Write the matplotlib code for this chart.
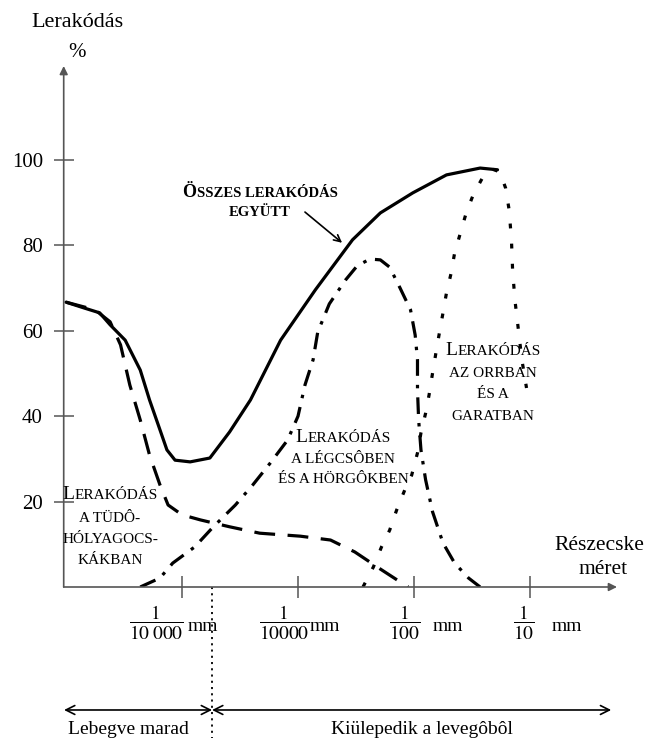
import matplotlib
matplotlib.use("Agg")
import matplotlib.pyplot as plt
from matplotlib.offsetbox import TextArea, HPacker, VPacker, AnnotationBbox

plt.rcParams['font.family'] = ['Liberation Serif', 'DejaVu Serif']
plt.rcParams['mathtext.fontset'] = 'stix'
plt.rcParams['lines.scale_dashes'] = False

# particle size axis: 1 unit = one decade, ticks at 1..4
total_x = [0.0, 0.16, 0.29, 0.38, 0.51, 0.64, 0.72, 0.81, 0.87, 0.94, 1.07, 1.24,
           1.41, 1.59, 1.85, 2.15, 2.47, 2.71, 2.99, 3.28, 3.57, 3.72]
total_y = [66.7, 65.3, 64.2, 61.4, 57.8, 50.8, 43.8, 36.8, 32.1, 29.7, 29.3, 30.2,
           36.3, 43.8, 57.8, 69.6, 81.3, 87.6, 92.3, 96.5, 98.1, 97.7]

alveolar_x = [0.0, 0.25, 0.38, 0.47, 0.55, 0.64, 0.72, 0.81, 0.88, 1.0, 1.16, 1.41,
              1.67, 2.02, 2.28, 2.49, 2.71, 2.88, 2.95]
alveolar_y = [66.7, 64.9, 62.1, 56.7, 47.3, 39.1, 30.9, 23.9, 19.2, 16.9, 15.7, 14.1,
              12.6, 11.9, 11.0, 8.2, 4.2, 1.2, 0.0]

bronchi_x = [0.64, 0.81, 0.92, 1.11, 1.27, 1.46, 1.61, 1.76, 1.91, 2.0, 2.06, 2.13,
             2.17, 2.27, 2.41, 2.51, 2.62, 2.71, 2.79, 2.88, 2.97, 3.01, 3.03, 3.03,
             3.04, 3.06, 3.10, 3.16, 3.25, 3.35, 3.47, 3.57]
bronchi_y = [0.0, 2.1, 5.6, 9.4, 14.1, 19.2, 23.9, 29.0, 34.4, 40.0, 47.3, 53.2,
             59.7, 66.3, 71.9, 75.2, 76.8, 76.6, 74.9, 70.0, 64.9, 59.0, 53.2, 46.1,
             39.1, 32.1, 25.1, 17.6, 10.3, 5.6, 2.1, 0.0]

nose_x = [2.56, 2.65, 2.72, 2.79, 2.85, 2.92, 2.98, 3.03, 3.06, 3.10, 3.13, 3.16,
          3.19, 3.22, 3.25, 3.28, 3.32, 3.35, 3.40, 3.45, 3.51, 3.59, 3.67, 3.74,
          3.79, 3.82, 3.84, 3.85, 3.87, 3.90, 3.93, 3.97]
nose_y = [0.0, 4.7, 9.4, 13.3, 18.0, 22.7, 26.2, 31.4, 36.1, 40.7, 45.0, 50.1,
          55.0, 59.7, 64.2, 68.9, 73.5, 78.2, 82.9, 87.6, 91.8, 95.8, 97.9, 97.2,
          93.4, 88.3, 81.3, 74.2, 67.2, 60.2, 53.2, 46.6]

y_ticks = [20, 40, 60, 80, 100]
x_ticks = [1, 2, 3, 4]
x_denoms = ['10\\;000', '10000', '100', '10']
x_frac_pos = [0.78, 1.88, 2.92, 3.95]
x_mm_pos = [1.05, 2.10, 3.16, 4.19]

fig = plt.figure(figsize=(6.48, 7.38), dpi=100)
ax = fig.add_axes([63.7 / 648, 151 / 738, 553.3 / 648, 521 / 738])
ax.set_xlim(-0.02, 4.75)
ax.set_ylim(0, 122)
for s in ax.spines.values():
    s.set_visible(False)

axis_col = '#555555'
# axes with arrows
ax.annotate('', xy=(-0.02, 122), xytext=(-0.02, 0),
            arrowprops=dict(arrowstyle='-|>', color=axis_col, lw=1.2,
                            mutation_scale=12, shrinkA=0, shrinkB=0))
ax.annotate('', xy=(4.75, 0), xytext=(-0.02, 0),
            arrowprops=dict(arrowstyle='-|>', color=axis_col, lw=1.2,
                            mutation_scale=12, shrinkA=0, shrinkB=0))

ax.set_yticks(y_ticks)
ax.set_yticklabels([str(v) for v in y_ticks])
ax.set_xticks(x_ticks)
ax.set_xticklabels([])
ax.tick_params(axis='y', direction='inout', length=14, width=1.1, color=axis_col,
               labelsize=15, pad=8)
ax.tick_params(axis='x', direction='inout', length=16, width=1.1, color=axis_col)

# curves
lw = 2.3
ax.plot(total_x, total_y, color='black', lw=lw, solid_capstyle='round')
ax.plot(alveolar_x, alveolar_y, color='black', lw=lw, dashes=(15, 9))
ax.plot(bronchi_x, bronchi_y, color='black', lw=lw, dashes=(12, 6.5, 2.5, 6.5))
ax.plot(nose_x, nose_y, color='black', lw=lw, dashes=(3.5, 11))

# x tick labels as fractions
for xp, d in zip(x_frac_pos, x_denoms):
    ax.text(xp, -8.5, r'$\dfrac{1}{%s}$' % d, ha='center', va='center', fontsize=14,
            clip_on=False)
for xp in x_mm_pos:
    ax.text(xp, -9.3, 'mm', ha='left', va='center', fontsize=14, clip_on=False)

# axis titles
ax.text(0.095, 132.3, 'Lerakódás', ha='center', va='center', fontsize=16, clip_on=False)
ax.text(0.095, 125.1, '%', ha='center', va='center', fontsize=15, clip_on=False)
ax.text(4.60, 9.8, 'Részecske', ha='center', va='center', fontsize=15.5, clip_on=False)
ax.text(4.63, 4.2, 'méret', ha='center', va='center', fontsize=15.5, clip_on=False)


def caps_label(lines, xy, big=14, small=11, weight='normal', sep=3):
    rows = []
    for line in lines:
        parts = []
        for txt, is_big in line:
            parts.append(TextArea(txt, textprops=dict(size=big if is_big else small,
                                                      weight=weight,
                                                      family='Liberation Serif')))
        rows.append(HPacker(children=parts, align='baseline', pad=0, sep=0))
    box = VPacker(children=rows, align='center', pad=0, sep=sep)
    ab = AnnotationBbox(box, xy, frameon=False, box_alignment=(0.5, 0.5),
                        annotation_clip=False)
    ax.add_artist(ab)


caps_label([[('Ö', True), ('SSZES LERAKÓDÁS', False)], [('EGYÜTT', False)]],
           (1.672, 90.3), big=13, small=10.5, weight='bold', sep=4)
ax.annotate('', xy=(2.38, 80.6), xytext=(2.06, 87.8),
            arrowprops=dict(arrowstyle='->', color='black', lw=1.2,
                            mutation_scale=12, shrinkA=0, shrinkB=0))
caps_label([[('L', True), ('ERAKÓDÁS', False)], [('AZ ORRBAN', False)],
            [('ÉS A', False)], [('GARATBAN', False)]], (3.68, 48.0), sep=6)
caps_label([[('L', True), ('ERAKÓDÁS', False)], [('A LÉGCSÔBEN', False)],
            [('ÉS A HÖRGÔKBEN', False)]], (2.39, 30.4), sep=5)
caps_label([[('L', True), ('ERAKÓDÁS', False)], [('A TÜDÔ-', False)],
            [('HÓLYAGOCS-', False)], [('KÁKBAN', False)]], (0.379, 14.1), sep=6)

# bottom: settling boundary
ax.plot([1.259, 1.259], [0, -36], color='black', lw=1.3, ls=(0, (1.5, 3)),
        clip_on=False)
ax.annotate('', xy=(-0.017, -28.8), xytext=(1.259, -28.8),
            arrowprops=dict(arrowstyle='<->', color='black', lw=1.2,
                            mutation_scale=16, shrinkA=0, shrinkB=0),
            annotation_clip=False)
ax.annotate('', xy=(4.70, -28.8), xytext=(1.259, -28.8),
            arrowprops=dict(arrowstyle='<->', color='black', lw=1.2,
                            mutation_scale=16, shrinkA=0, shrinkB=0),
            annotation_clip=False)
ax.text(0.534, -33.4, 'Lebegve marad', ha='center', va='center', fontsize=14,
        clip_on=False)
ax.text(3.069, -33.4, 'Kiülepedik a levegôbôl', ha='center', va='center',
        fontsize=14, clip_on=False)

fig.savefig('out.png', dpi=100)
plt.close(fig)
